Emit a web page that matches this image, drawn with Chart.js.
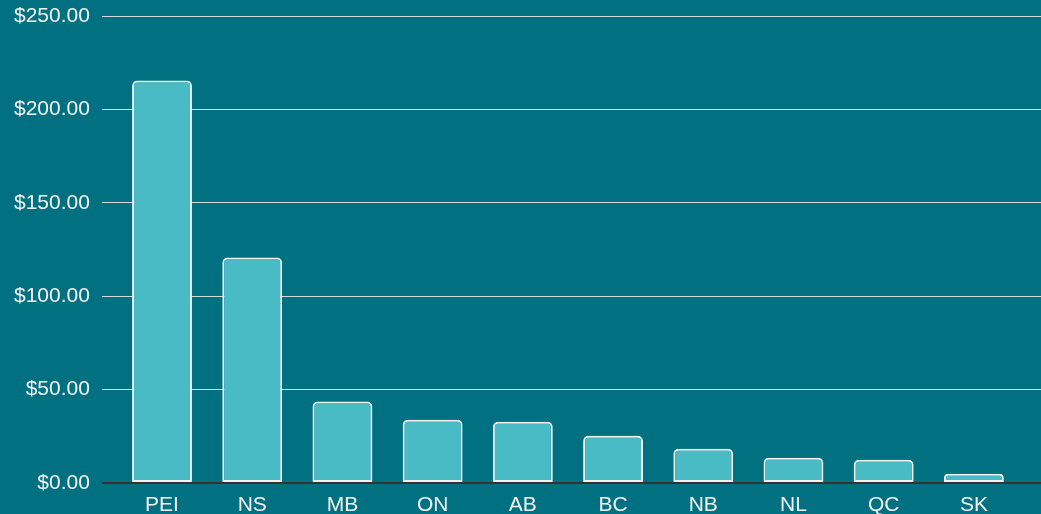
<!DOCTYPE html>
<html>
<head>
<meta charset="utf-8">
<script src="https://cdn.jsdelivr.net/npm/chart.js@4/dist/chart.umd.min.js"></script>
<style>
  html, body { margin: 0; padding: 0; background: #017080; }
  #wrap { width: 1041px; height: 514px; }
</style>
</head>
<body>
<div id="wrap"><canvas id="chart"></canvas></div>
<script>
const provinces = ["PEI", "NS", "MB", "ON", "AB", "BC", "NB", "NL", "QC", "SK"];
const amounts = [215.5, 120.8, 43.6, 33.9, 32.8, 25.3, 18.3, 13.5, 12.4, 4.9];
const yTicks = [0, 50, 100, 150, 200, 250];

const zeroColor = "#333333";
const gridColor = "#d8d8d8";

// same pixel snapping chart.js uses for grid lines
function snap(p, w) {
    return Math.round(p - w / 2) + w / 2;
}

// stretch the y grid lines to the right edge of the canvas, like the original
const extendGrid = {
    id: "extendGrid",
    afterDraw(chart) {
        const ctx = chart.ctx;
        const y = chart.scales.y;
        const right = chart.chartArea.right;
        ctx.save();
        y.ticks.forEach(t => {
            const w = t.value === 0 ? 2 : 1;
            const py = snap(y.getPixelForValue(t.value), w);
            ctx.beginPath();
            ctx.strokeStyle = t.value === 0 ? zeroColor : gridColor;
            ctx.lineWidth = w;
            ctx.moveTo(right, py);
            ctx.lineTo(chart.width, py);
            ctx.stroke();
        });
        ctx.restore();
    }
};

const ctx = document.getElementById("chart").getContext("2d");
new Chart(ctx, {
    type: "bar",
    data: {
        labels: provinces,
        datasets: [{
            data: amounts,
            backgroundColor: "#48bbc5",
            borderColor: "#f2f2f2",
            borderWidth: 2,
            borderSkipped: false,
            borderRadius: { topLeft: 5, topRight: 5, bottomLeft: 0, bottomRight: 0 },
            categoryPercentage: 0.8,
            barPercentage: 0.83
        }]
    },
    plugins: [extendGrid],
    options: {
        responsive: true,
        maintainAspectRatio: false,
        animation: false,
        layout: { padding: { left: 2, right: 22, top: 0, bottom: -14 } },
        plugins: {
            legend: { display: false },
            tooltip: { enabled: false }
        },
        scales: {
            x: {
                grid: { display: false, drawTicks: false },
                border: { display: false },
                ticks: {
                    color: "#f2f2f2",
                    padding: 12,
                    font: { family: "'Liberation Sans', Arial, sans-serif", size: 21, lineHeight: 1 }
                }
            },
            y: {
                min: 0,
                max: 250,
                afterBuildTicks: axis => {
                    axis.ticks = yTicks.map(v => ({ value: v }));
                },
                border: { display: false },
                grid: {
                    tickLength: 15,
                    color: c => c.tick && c.tick.value === 0 ? zeroColor : gridColor,
                    lineWidth: c => c.tick && c.tick.value === 0 ? 2 : 1
                },
                ticks: {
                    color: "#f2f2f2",
                    padding: 12,
                    font: { family: "'Liberation Sans', Arial, sans-serif", size: 21, lineHeight: 0.4 },
                    callback: v => "$" + v.toFixed(2)
                }
            }
        }
    }
});
</script>
</body>
</html>
